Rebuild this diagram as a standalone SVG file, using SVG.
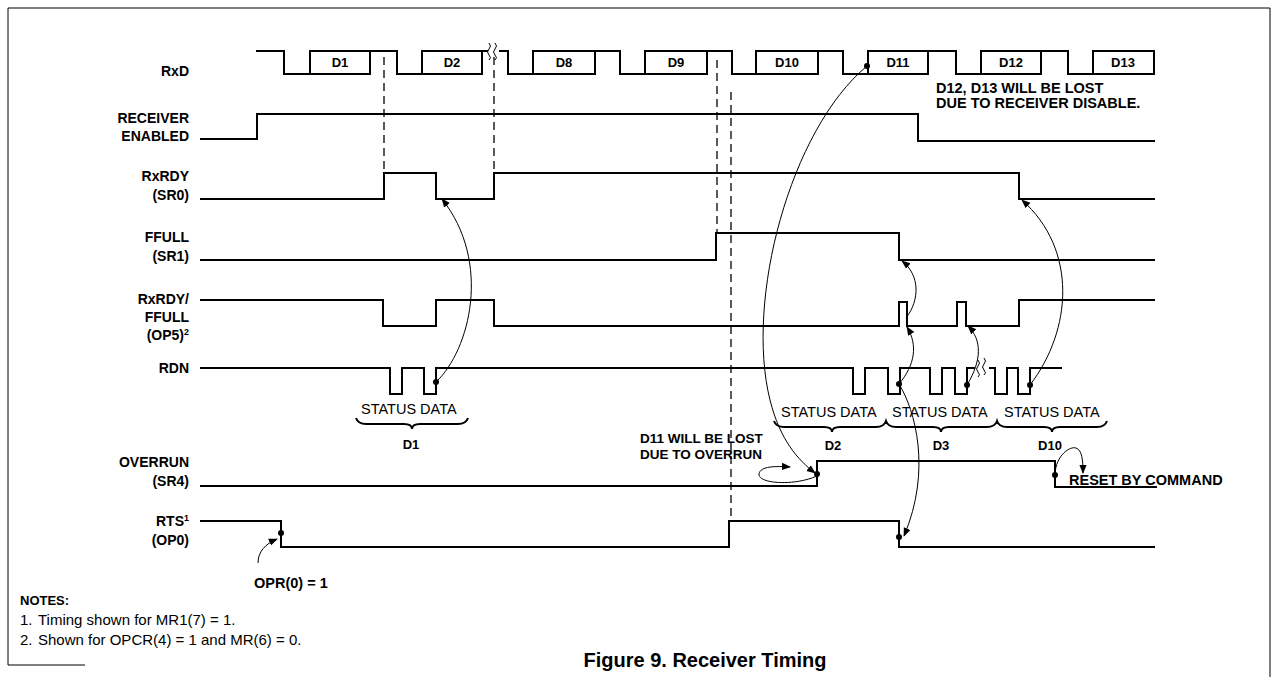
<svg xmlns="http://www.w3.org/2000/svg" width="1274" height="677" viewBox="0 0 1274 677">
<style>
.sig{fill:none;stroke:#000;stroke-width:2;stroke-linejoin:miter}
.box{fill:none;stroke:#000;stroke-width:2}
.dash{fill:none;stroke:#000;stroke-width:1.3;stroke-dasharray:8,5}
.cv{fill:none;stroke:#000;stroke-width:1}
.lbl{font-family:"Liberation Sans",Arial,sans-serif;font-weight:bold;font-size:14px;fill:#000;text-anchor:end}
.bx{font-family:"Liberation Sans",Arial,sans-serif;font-weight:bold;font-size:13px;fill:#000;text-anchor:middle}
.ann{font-family:"Liberation Sans",Arial,sans-serif;font-weight:bold;font-size:14.5px;fill:#000}
.ann2{font-family:"Liberation Sans",Arial,sans-serif;font-weight:bold;font-size:13.5px;fill:#000}
.nh{font-family:"Liberation Sans",Arial,sans-serif;font-weight:bold;font-size:13px;fill:#000}
.cap{font-family:"Liberation Sans",Arial,sans-serif;font-weight:bold;font-size:20px;fill:#000;text-anchor:middle}
.sd{font-family:"Liberation Sans",Arial,sans-serif;font-size:14.5px;fill:#000}
.note{font-family:"Liberation Sans",Arial,sans-serif;font-size:15px;fill:#000}
.sup{font-size:9px}
.brace{fill:none;stroke:#000;stroke-width:2}
.frame{fill:none;stroke:#000;stroke-width:1}
</style>
<defs>
<marker id="ah" viewBox="0 0 10 10" refX="9" refY="5" markerWidth="9" markerHeight="9" markerUnits="userSpaceOnUse" orient="auto"><path d="M0,1 L10,5 L0,9 z" fill="#000"/></marker>
</defs>
<path class="frame" d="M8,665 V8 H1270 V677 M8,665 H85"/>

<g id="rxd">
<text class="lbl" x="189" y="76">RxD</text>
<path class="sig" d="M256,51 H284 V74 H310 M370,51 H397 V74 H422 M482,51 H488 M499,51 H508 V74 H533 M595,51 H620 V74 H645 M707,51 H732 V74 H756 M818,51 H843 V74 H868 M928,51 H956 V74 H981 M1041,51 H1068 V74 H1093"/>
<path class="cv" d="M489,43 q3,3 0,6 q-3,3 0,6 q3,3 0,5 M495,43 q3,3 0,6 q-3,3 0,6 q3,3 0,5"/>
<rect class="box" x="310" y="51" width="60" height="23"/>
<rect class="box" x="422" y="51" width="60" height="23"/>
<rect class="box" x="533" y="51" width="62" height="23"/>
<rect class="box" x="645" y="51" width="62" height="23"/>
<rect class="box" x="756" y="51" width="62" height="23"/>
<rect class="box" x="868" y="51" width="60" height="23"/>
<rect class="box" x="981" y="51" width="60" height="23"/>
<rect class="box" x="1093" y="51" width="61" height="23"/>
<text class="bx" x="340" y="67">D1</text>
<text class="bx" x="452" y="67">D2</text>
<text class="bx" x="564" y="67">D8</text>
<text class="bx" x="676" y="67">D9</text>
<text class="bx" x="787" y="67">D10</text>
<text class="bx" x="898" y="67">D11</text>
<text class="bx" x="1011" y="67">D12</text>
<text class="bx" x="1123" y="67">D13</text>
</g>

<g id="recv">
<text class="lbl" x="189" y="123">RECEIVER</text>
<text class="lbl" x="189" y="141">ENABLED</text>
<path class="sig" d="M200,139 H257 V114 H918 V141 H1155"/>
</g>

<g id="rxrdy">
<text class="lbl" x="189" y="181">RxRDY</text>
<text class="lbl" x="189" y="200">(SR0)</text>
<path class="sig" d="M200,199 H384 V173 H436 V199 H494 V173 H1019 V199 H1155"/>
</g>

<g id="ffull">
<text class="lbl" x="189" y="242">FFULL</text>
<text class="lbl" x="189" y="261">(SR1)</text>
<path class="sig" d="M200,260 H716 V233 H899 V260 H1155"/>
</g>

<g id="op5">
<text class="lbl" x="189" y="304">RxRDY/</text>
<text class="lbl" x="189" y="322">FFULL</text>
<text class="lbl" x="189" y="340">(OP5)<tspan class="sup" dy="-5">2</tspan></text>
<path class="sig" d="M200,300 H383 V326 H436 V300 H494 V326 H899 V302 H907 V326 H957 V302 H966 V326 H1019 V300 H1155"/>
</g>

<g id="rdn">
<text class="lbl" x="189" y="373">RDN</text>
<path class="sig" d="M200,368 H390 V394 H402 V368 H424 V394 H436 V368 H853 V394 H865 V368 H888 V394 H900 V368 H930 V394 H942 V368 H955 V394 H967 V368 H975 M989,368 H995 V394 H1007 V368 H1018 V394 H1030 V368 H1062"/>
<path class="cv" d="M978,360 q3,3 0,6 q-3,3 0,6 q3,3 0,5 M984,358 q3,3 0,6 q-3,3 0,6 q3,3 0,5"/>
</g>

<g id="overrun">
<text class="lbl" x="189" y="467">OVERRUN</text>
<text class="lbl" x="189" y="486">(SR4)</text>
<path class="sig" d="M200,486 H817 V461 H1055 V487 H1157"/>
</g>

<g id="rts">
<text class="lbl" x="189" y="526">RTS<tspan class="sup" dy="-5">1</tspan></text>
<text class="lbl" x="189" y="545">(OP0)</text>
<path class="sig" d="M200,521 H281 V547 H729 V521 H899 V547 H1155"/>
</g>

<g id="dashes">
<path class="dash" d="M384,57 V173 M494,57 V173 M717,60 V233 M731,92 V521"/>
</g>

<g id="status">
<text class="sd" x="361" y="414">STATUS DATA</text>
<path class="brace" d="M356,418 q2,6 10,6 H404 q8,0 8,5 q0,-5 8,-5 H458 q8,0 10,-6"/>
<text class="bx" x="411" y="449">D1</text>
<text class="sd" x="781" y="417">STATUS DATA</text>
<text class="sd" x="892" y="417">STATUS DATA</text>
<text class="sd" x="1004" y="417">STATUS DATA</text>
<path class="brace" d="M774,421 q2,6 10,6 H824 q8,0 8,5 q0,-5 8,-5 H876 q8,0 10,-6 q2,6 10,6 H933 q8,0 8,5 q0,-5 8,-5 H987 q8,0 10,-6 q2,6 10,6 H1044 q8,0 8,5 q0,-5 8,-5 H1097 q8,0 10,-6"/>
<text class="bx" x="833" y="450">D2</text>
<text class="bx" x="941" y="450">D3</text>
<text class="bx" x="1050" y="450">D10</text>
</g>

<g id="annotations">
<text class="ann" x="936" y="93">D12, D13 WILL BE LOST</text>
<text class="ann" x="936" y="108">DUE TO RECEIVER DISABLE.</text>
<text class="ann2" x="640" y="443">D11 WILL BE LOST</text>
<text class="ann2" x="640" y="459">DUE TO OVERRUN</text>
<text class="ann" x="1069" y="485">RESET BY COMMAND</text>
<text class="ann" x="254" y="588">OPR(0) = 1</text>
</g>

<g id="connectors">
<path class="cv" marker-end="url(#ah)" d="M436,382 C470,350 492,262 442,199"/>
<path class="cv" marker-end="url(#ah)" d="M867,66 C790,130 745,300 770,400 C780,440 798,460 815,473"/>
<path class="cv" marker-end="url(#ah)" d="M899,384 C915,365 918,345 907,327"/>
<path class="cv" marker-end="url(#ah)" d="M906,318 C920,300 920,275 902,261"/>
<path class="cv" marker-end="url(#ah)" d="M899,384 C915,410 932,470 904,536"/>
<path class="cv" marker-end="url(#ah)" d="M967,385 C982,360 982,340 968,326"/>
<path class="cv" marker-end="url(#ah)" d="M1030,385 C1072,330 1078,250 1022,200"/>
<path class="cv" marker-end="url(#ah)" d="M817,476 C795,486 758,484 759,474 C760,466 776,466 790,467"/>
<path class="cv" marker-end="url(#ah)" d="M1055,474 C1056,455 1070,446 1076,448 C1082,450 1083,460 1083,473"/>
<path class="cv" marker-end="url(#ah)" d="M258,563 C258,552 265,544 277,539"/>
<g fill="#000">
<circle cx="436" cy="382" r="3"/>
<circle cx="867" cy="66" r="3"/>
<circle cx="899" cy="384" r="3"/>
<circle cx="967" cy="385" r="3"/>
<circle cx="1030" cy="385" r="3"/>
<circle cx="817" cy="474" r="3"/>
<circle cx="1055" cy="475" r="3"/>
<circle cx="899" cy="537" r="3"/>
<circle cx="281" cy="533" r="3"/>
</g>
</g>

<g id="notes">
<text class="nh" x="20" y="605">NOTES:</text>
<text class="note" x="20" y="625">1.<tspan x="38">Timing shown for MR1(7) = 1.</tspan></text>
<text class="note" x="20" y="645">2.<tspan x="38">Shown for OPCR(4) = 1 and MR(6) = 0.</tspan></text>
<text class="cap" x="705" y="667">Figure 9. Receiver Timing</text>
</g>
</svg>
